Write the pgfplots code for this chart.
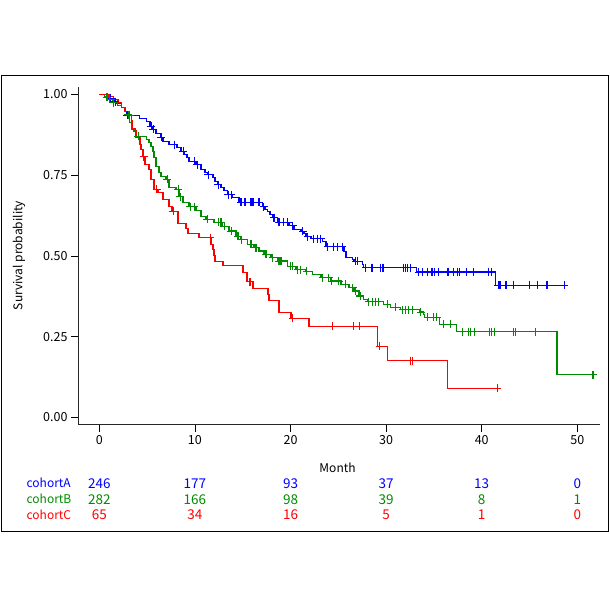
\documentclass[border=0pt]{standalone}
\usepackage{fontspec}
\setmainfont{Noto Sans CJK JP}
\usepackage{pgfplots}
\pgfplotsset{compat=1.18}
\usepackage{pgfplotstable}

\definecolor{cA}{RGB}{0,0,255}
\definecolor{cB}{RGB}{0,139,0}
\definecolor{cC}{RGB}{255,0,0}

% Kaplan-Meier step functions: time (months), survival
\pgfplotstableread{
t s
0 1.000
0.52 0.994
1.04 0.988
1.57 0.978
1.77 0.972
2.30 0.960
2.61 0.947
2.82 0.935
4.18 0.926
4.91 0.916
5.32 0.901
5.61 0.892
5.95 0.879
6.47 0.867
6.65 0.854
7.31 0.845
8.14 0.836
8.56 0.824
8.87 0.814
9.19 0.805
9.39 0.793
10.13 0.783
10.65 0.768
11.06 0.759
11.35 0.752
11.87 0.743
12.11 0.731
12.39 0.721
12.73 0.712
13.05 0.703
13.43 0.690
13.96 0.681
14.61 0.666
17.09 0.653
17.33 0.644
17.61 0.638
17.85 0.628
18.13 0.619
18.65 0.604
19.83 0.594
20.35 0.582
21.09 0.576
21.40 0.570
21.61 0.560
22.13 0.554
23.35 0.545
23.70 0.529
25.57 0.514
25.78 0.495
26.48 0.489
26.62 0.483
27.53 0.474
27.66 0.464
33.19 0.450
41.44 0.409
48.64 0.409
}\stepA

\pgfplotstableread{
t s
0 1.000
0.52 0.994
0.73 0.991
1.04 0.985
1.43 0.975
1.88 0.966
2.30 0.960
2.71 0.947
3.00 0.938
3.13 0.913
3.34 0.892
3.65 0.885
3.86 0.870
4.91 0.861
5.22 0.851
5.43 0.839
5.61 0.824
5.74 0.805
5.95 0.777
6.26 0.759
6.47 0.746
6.99 0.737
7.31 0.712
8.04 0.706
8.35 0.684
8.74 0.666
9.39 0.653
10.13 0.641
10.65 0.622
11.17 0.613
12.00 0.604
12.91 0.592
13.57 0.577
14.30 0.561
14.82 0.551
15.52 0.536
16.18 0.526
16.70 0.515
17.22 0.505
17.95 0.495
18.65 0.484
19.70 0.468
20.56 0.458
21.61 0.452
22.31 0.443
23.17 0.433
24.22 0.422
25.26 0.412
26.10 0.402
26.62 0.391
27.14 0.376
27.66 0.365
28.05 0.359
29.75 0.350
30.48 0.341
31.52 0.334
33.51 0.326
33.92 0.319
34.03 0.310
35.59 0.288
37.34 0.266
47.88 0.133
51.64 0.133
}\stepB

\pgfplotstableread{
t s
0 1.000
1.01 0.994
1.46 0.985
1.95 0.975
2.30 0.960
2.71 0.947
3.13 0.935
3.34 0.920
3.44 0.895
3.76 0.889
3.86 0.867
4.28 0.845
4.38 0.830
4.59 0.808
4.80 0.783
5.22 0.768
5.43 0.737
5.74 0.706
6.16 0.697
6.68 0.675
7.31 0.653
7.62 0.638
8.25 0.601
9.08 0.585
9.29 0.570
10.44 0.557
11.69 0.536
11.90 0.520
12.00 0.502
12.11 0.483
12.94 0.471
15.03 0.449
15.45 0.421
16.08 0.399
17.64 0.381
17.75 0.362
18.79 0.325
20.04 0.307
21.92 0.282
29.12 0.220
30.17 0.176
36.43 0.090
41.62 0.090
}\stepC

% censored observations
\pgfplotstableread{
t s
1.15 0.988
1.65 0.978
2.92 0.935
5.43 0.901
5.64 0.892
6.50 0.867
7.83 0.845
8.77 0.824
9.92 0.793
10.23 0.783
11.38 0.752
12.42 0.721
13.47 0.690
13.78 0.690
14.82 0.666
15.24 0.666
15.87 0.666
16.08 0.666
16.70 0.666
17.22 0.653
18.27 0.619
18.79 0.604
19.31 0.604
19.73 0.604
20.25 0.594
21.29 0.576
21.82 0.560
22.44 0.554
22.86 0.554
23.17 0.554
23.90 0.529
24.53 0.529
24.95 0.529
25.40 0.529
26.83 0.483
27.04 0.483
27.87 0.464
28.50 0.464
28.60 0.464
29.44 0.464
29.65 0.464
29.75 0.464
31.84 0.464
32.05 0.464
32.25 0.464
32.57 0.464
33.40 0.450
33.82 0.450
34.34 0.450
34.76 0.450
34.86 0.450
35.07 0.450
35.49 0.450
36.43 0.450
36.53 0.450
37.06 0.450
37.47 0.450
37.68 0.450
38.41 0.450
39.14 0.450
40.71 0.450
41.02 0.450
41.75 0.409
41.86 0.409
41.96 0.409
42.48 0.409
42.59 0.409
43.32 0.409
44.99 0.409
45.82 0.409
46.76 0.409
46.87 0.409
48.64 0.409
}\censA

\pgfplotstableread{
t s
0.80 0.991
1.10 0.985
1.46 0.975
3.03 0.938
4.07 0.870
7.10 0.737
8.25 0.706
8.46 0.684
9.50 0.653
9.92 0.653
11.30 0.613
12.42 0.604
12.73 0.604
13.05 0.592
13.78 0.577
14.51 0.561
14.90 0.551
15.87 0.536
16.39 0.526
17.43 0.505
18.16 0.495
18.79 0.484
19.00 0.484
20.04 0.468
20.25 0.468
20.77 0.458
21.09 0.458
21.70 0.452
23.38 0.433
24.01 0.433
24.32 0.422
25.05 0.422
25.78 0.412
26.51 0.402
26.83 0.391
27.30 0.376
28.18 0.359
28.60 0.359
28.91 0.359
29.23 0.359
30.10 0.350
31.00 0.341
31.73 0.334
32.05 0.334
32.36 0.334
32.78 0.334
33.60 0.326
34.34 0.310
34.97 0.310
35.28 0.310
36.01 0.288
36.74 0.288
38.00 0.266
38.62 0.266
38.83 0.266
39.25 0.266
40.81 0.266
41.02 0.266
41.34 0.266
43.32 0.266
43.53 0.266
45.62 0.266
51.64 0.133
}\censB

\pgfplotstableread{
t s
3.20 0.935
4.65 0.808
6.00 0.706
7.72 0.638
11.59 0.557
15.76 0.421
20.25 0.307
24.43 0.282
26.62 0.282
27.24 0.282
29.33 0.220
32.57 0.176
32.78 0.176
41.62 0.090
}\censC

\begin{document}
\begin{tikzpicture}[font=\fontsize{12bp}{14bp}\selectfont]
\path (0,0) rectangle (610bp,610bp);
\draw[line width=1bp] (1bp,78bp) rectangle (608bp,534.5bp);
\begin{axis}[
  at={(78bp,185.3bp)}, anchor=south west,
  scale only axis, width=522bp, height=337.7bp,
  xmin=-2.228, xmax=52.37, ymin=-0.0223, ymax=1.0232,
  axis lines*=left,
  axis line style={black!85, line width=1bp},
  tick align=outside, major tick length=7bp,
  tick style={black, line width=0.8bp},
  xtick={0,10,20,30,40,50},
  ytick={0,0.25,0.5,0.75,1},
  yticklabel style={/pgf/number format/.cd, fixed, fixed zerofill, precision=2},
  /pgf/number format/assume math mode=true,
  ticklabel style={font=\fontsize{12.5bp}{14bp}\selectfont},
  clip=false,
  every axis plot/.append style={line width=1.45bp},
]
\addplot[cA, const plot] table {\stepA};
\addplot[cB, const plot] table {\stepB};
\addplot[cC, const plot] table {\stepC};
\addplot[cA, only marks, mark=+, mark size=4bp, mark options={line width=1.1bp}] table {\censA};
\addplot[cB, only marks, mark=+, mark size=4bp, mark options={line width=1.1bp}] table {\censB};
\addplot[cC, only marks, mark=+, mark size=4bp, mark options={line width=1.1bp}] table {\censC};

\node at (axis cs:24.92,-0.1554) {Month};
% numbers at risk
\begin{scope}[every node/.style={font=\fontsize{13.5bp}{15bp}\selectfont}]
\node[text=cA] at (axis cs:0,-0.2037) {246};
\node[text=cA] at (axis cs:10,-0.2037) {177};
\node[text=cA] at (axis cs:20,-0.2037) {93};
\node[text=cA] at (axis cs:30,-0.2037) {37};
\node[text=cA] at (axis cs:40,-0.2037) {13};
\node[text=cA] at (axis cs:50,-0.2037) {0};
\node[text=cB] at (axis cs:0,-0.2533) {282};
\node[text=cB] at (axis cs:10,-0.2533) {166};
\node[text=cB] at (axis cs:20,-0.2533) {98};
\node[text=cB] at (axis cs:30,-0.2533) {39};
\node[text=cB] at (axis cs:40,-0.2533) {8};
\node[text=cB] at (axis cs:50,-0.2533) {1};
\node[text=cC] at (axis cs:0,-0.3019) {65};
\node[text=cC] at (axis cs:10,-0.3019) {34};
\node[text=cC] at (axis cs:20,-0.3019) {16};
\node[text=cC] at (axis cs:30,-0.3019) {5};
\node[text=cC] at (axis cs:40,-0.3019) {1};
\node[text=cC] at (axis cs:50,-0.3019) {0};
\end{scope}
\end{axis}
\node[rotate=90] at (19bp,354.5bp) {Survival probability};
\node[anchor=west, text=cA, inner sep=0pt] at (26.4bp,126.7bp) {cohortA};
\node[anchor=west, text=cB, inner sep=0pt] at (26.4bp,110.7bp) {cohortB};
\node[anchor=west, text=cC, inner sep=0pt] at (26.4bp,95bp) {cohortC};
\end{tikzpicture}
\end{document}
